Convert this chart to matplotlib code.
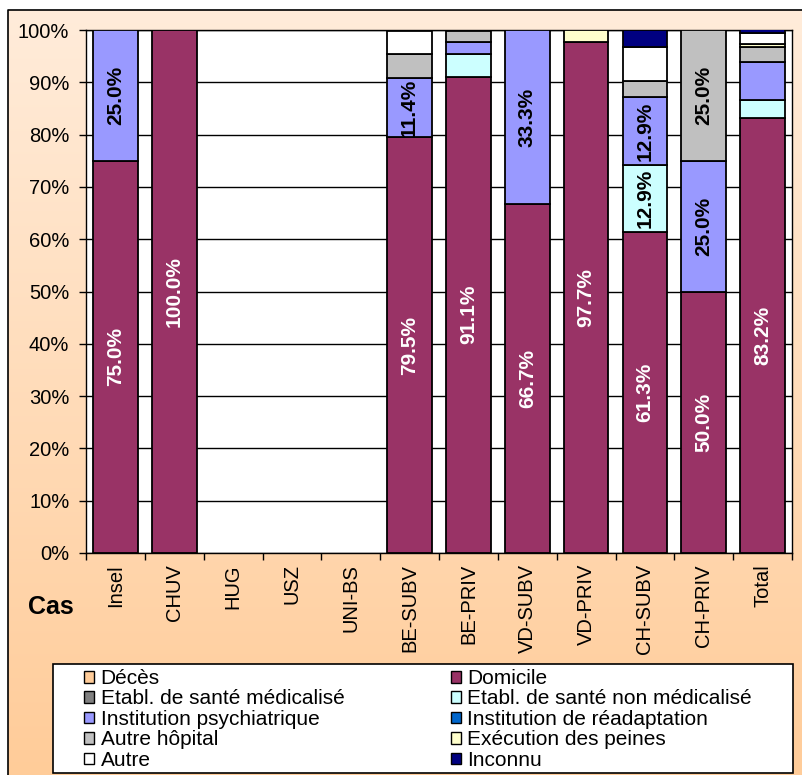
import numpy as np
import matplotlib

matplotlib.use("Agg")
import matplotlib.pyplot as plt  # noqa: E402
from matplotlib.patches import Rectangle  # noqa: E402

plt.rcParams["font.family"] = ["Liberation Sans", "DejaVu Sans"]

categories = ["Insel", "CHUV", "HUG", "USZ", "UNI-BS", "BE-SUBV", "BE-PRIV",
              "VD-SUBV", "VD-PRIV", "CH-SUBV", "CH-PRIV", "Total"]

series_names = ["Décès", "Domicile", "Etabl. de santé médicalisé",
                "Etabl. de santé non médicalisé", "Institution psychiatrique",
                "Institution de réadaptation", "Autre hôpital",
                "Exécution des peines", "Autre", "Inconnu"]

deces = [0, 0, 0, 0, 0, 0, 0, 0, 0, 0, 0, 0]
domicile = [75.0, 100.0, 0, 0, 0, 79.5, 91.1, 66.7, 97.7, 61.3, 50.0, 83.2]
etabl_med = [0, 0, 0, 0, 0, 0, 0, 0, 0, 0, 0, 0]
etabl_non_med = [0, 0, 0, 0, 0, 0, 4.4, 0, 0, 12.9, 0, 3.4]
psychiatrique = [25.0, 0, 0, 0, 0, 11.4, 2.2, 33.3, 0, 12.9, 25.0, 7.3]
readaptation = [0, 0, 0, 0, 0, 0, 0, 0, 0, 0, 0, 0]
autre_hopital = [0, 0, 0, 0, 0, 4.5, 2.2, 0, 0, 3.2, 25.0, 2.8]
execution = [0, 0, 0, 0, 0, 0, 0, 0, 2.3, 0, 0, 0.6]
autre = [0, 0, 0, 0, 0, 4.5, 0, 0, 0, 6.5, 0, 2.2]
inconnu = [0, 0, 0, 0, 0, 0, 0, 0, 0, 3.2, 0, 0.6]

series_values = [deces, domicile, etabl_med, etabl_non_med, psychiatrique,
                 readaptation, autre_hopital, execution, autre, inconnu]
series_colors = ["#FFCC99", "#993366", "#808080", "#CCFFFF", "#9999FF",
                 "#0066CC", "#C0C0C0", "#FFFFCC", "#FFFFFF", "#000080"]

W, H = 802, 775
fig = plt.figure(figsize=(W / 100, H / 100), dpi=100, facecolor="white")

# gradient background of the chart area (pixel coords)
bg = fig.add_axes([0, 0, 1, 1])
bg.set_xlim(0, W)
bg.set_ylim(H, 0)
grad = np.linspace(0, 1, 256)[:, None]
top_c = np.array([255, 236, 218]) / 255
bot_c = np.array([255, 204, 153]) / 255
img = top_c[None, None, :] * (1 - grad[:, :, None]) + bot_c[None, None, :] * grad[:, :, None]
bg.imshow(img, extent=(8, W, H, 10), aspect="auto", interpolation="bilinear")
bg.plot([8, 8, W], [H, 10, 10], color="black", lw=1.2)
# legend box
bg.add_patch(Rectangle((53, 664), 740, 109, facecolor="white",
                       edgecolor="black", lw=1.2, zorder=3))
bg.axis("off")
bg.set_zorder(0)

ax = fig.add_axes([86 / W, 1 - 553 / H, (792 - 86) / W, 523 / H])
ax.set_zorder(1)
ax.set_facecolor("white")

x = np.arange(len(categories))
bottom = np.zeros(len(categories))
for name, vals, col in zip(series_names, series_values, series_colors):
    vals = np.array(vals, dtype=float)
    keep = vals > 0
    if keep.any():
        ax.bar(x[keep], vals[keep], 0.76, bottom=bottom[keep], color=col,
               edgecolor="black", linewidth=1.3, zorder=3)
    for xi, v, b in zip(x, vals, bottom):
        if v >= 10:
            ax.text(xi, b + v / 2, f"{v:.1f}%", rotation=90, ha="center",
                    va="center", fontsize=15, fontweight="bold",
                    color="white" if name == "Domicile" else "black", zorder=4)
    bottom += vals

ax.set_xlim(-0.5, len(categories) - 0.5)
ax.set_ylim(0, 100)
ax.set_yticks(np.arange(0, 101, 10))
ax.set_yticklabels([f"{v}%" for v in range(0, 101, 10)], fontsize=14.5)
ax.yaxis.grid(True, color="black", lw=1)
ax.set_axisbelow(True)
ax.tick_params(axis="y", length=5, width=1, pad=7)

ax.set_xticks(x)
ax.set_xticklabels(categories, rotation=90, fontsize=14.5)
ax.set_xticks(np.arange(-0.5, len(categories)), minor=True)
ax.tick_params(axis="x", which="major", length=0, pad=8)
ax.tick_params(axis="x", which="minor", length=5, width=1)
for s in ax.spines.values():
    s.set_color("black")
    s.set_linewidth(1)

fig.text(51 / W, 1 - 607 / H, "Cas", fontsize=18, fontweight="bold",
         ha="center", va="center")

# legend is filled row by row in the reference (two columns)
order = [0, 2, 4, 6, 8, 1, 3, 5, 7, 9]
handles = [Rectangle((0, 0), 1, 1, facecolor=series_colors[i], edgecolor="black", lw=1)
           for i in order]
labels = [series_names[i] for i in order]
leg = fig.legend(handles, labels, ncol=2, loc="upper left",
                 bbox_to_anchor=(84 / W, 1 - 669 / H), fontsize=15,
                 handlelength=0.5, handleheight=0.5, handletextpad=0.3,
                 labelspacing=0.07, columnspacing=5.1, borderpad=0,
                 borderaxespad=0, frameon=False)
leg.set_zorder(5)

fig.savefig("out.png", dpi=100, facecolor=fig.get_facecolor())
plt.close(fig)
